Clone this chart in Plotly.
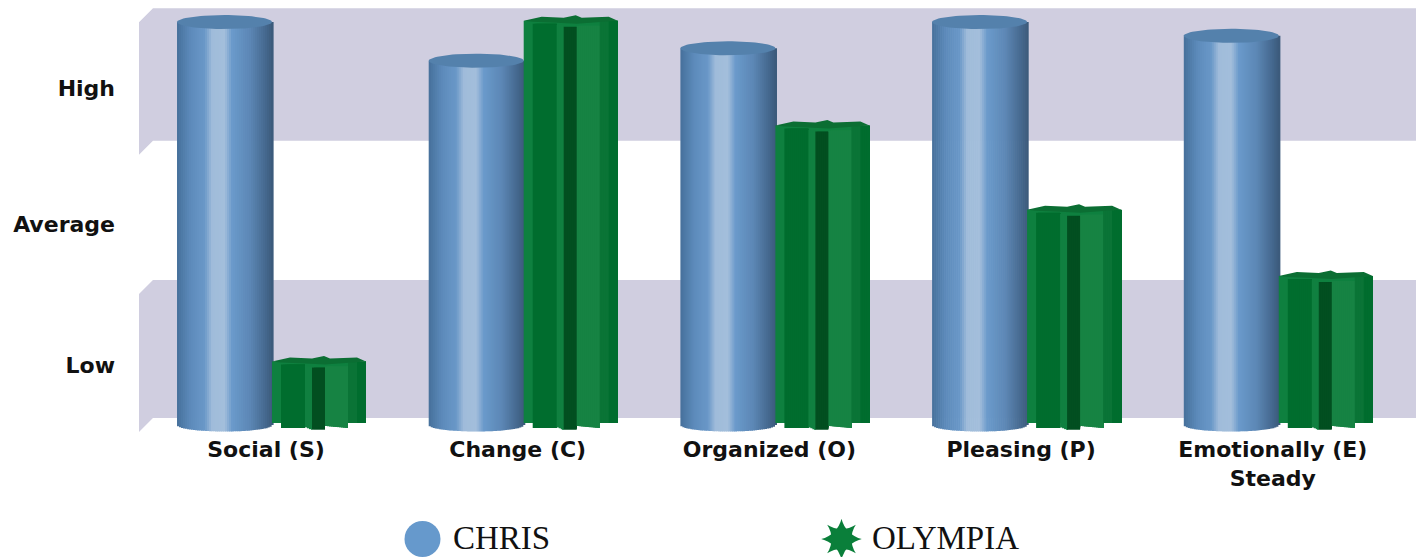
import math
import plotly.graph_objects as go

# Trait scores on the Low / Average / High scale
categories = ["Social (S)", "Change (C)", "Organized (O)", "Pleasing (P)", "Emotionally (E)<br>Steady"]
chris_scores = [2.92, 2.64, 2.73, 2.92, 2.82]
olympia_scores = [0.46, 2.93, 2.17, 1.56, 1.08]
level_labels = ["Low", "Average", "High"]
level_positions = [0.43, 1.455, 2.44]
shaded_bands = [(0.05, 1.05), (2.06, 3.02)]
key_labels = ["CHRIS", "OLYMPIA"]

# Drawing scale of the figure
FIG_W, FIG_H = 1416, 557
PLOT_LEFT, PLOT_BOTTOM = 139, 434
PX_X = 1 / 251.7
PX_Y = 1 / 138
X_POS = list(range(len(categories)))
X_RANGE = [-0.5046, 4.569]
Y_RANGE = [-0.0652, 3.0797]
BOUNDARY = 6      # gap between a label centre and the seam of its two columns
WIDTH = 95
PRISM_W = 94
LID_RY = 7
FOOT_RY = 6.5
WALL_LEFT = -0.449
WALL_SKEW_X = 14
WALL_SKEW_Y = 14


def lerp_color(stops, t):
    for (t0, c0), (t1, c1) in zip(stops, stops[1:]):
        if t <= t1:
            f = (t - t0) / (t1 - t0) if t1 > t0 else 0
            return "rgb({},{},{})".format(*[round(a + (b - a) * f) for a, b in zip(c0, c1)])
    return "rgb({},{},{})".format(*stops[-1][1])


def profile(points, x):
    for (a, da), (b, db) in zip(points, points[1:]):
        if a <= x <= b and b > a:
            return da + (db - da) * (x - a) / (b - a)
    return points[-1][1]


# Horizontal shading across a cylinder, left to right
CYLINDER_SHADE = [
    (0.00, (70, 112, 155)), (0.14, (92, 138, 186)), (0.29, (106, 152, 200)),
    (0.37, (160, 188, 218)), (0.50, (163, 190, 219)), (0.58, (106, 154, 203)),
    (0.77, (92, 135, 181)), (0.93, (69, 104, 143)), (1.00, (60, 91, 124)),
]
# Recessed faces of the eight-pointed prism: start and end in pixels from its left edge, colour
PRISM_FACES = [
    (9, 33, "#006d2e"), (33, 40, "#108040"), (40, 53, "#024f20"),
    (53, 76, "#168343"), (76, 85, "#0a7436"), (85, 94, "#006d2e"),
]
PRISM_BODY = "#0e803f"
# Foot of each face: pixels from left edge, pixels below the zero line
PRISM_FOOT = [(9, 3), (33, 2), (40, 5), (53, 1), (76, 3), (76.01, -2), (94, -2)]
# Top of each face: pixels from left edge, pixels below the score
PRISM_HEAD = [(9, 3), (33, 4), (40, 6), (53, 7), (53.01, 5), (76, 5), (76.01, 1), (94, 0)]
# Outline of the cap: pixels from left edge, pixels above the score
PRISM_CAP = [(0, 0), (18, 4), (40, 3), (52, 5.5), (58, 3), (85, 4), (94, 0),
             (76, -1), (53, -3), (33, -2), (9, -1)]
CAP_COLOR = "#0b6e33"

fig = go.Figure()

# Cylinders: narrow vertical strips give the shading and the rounded foot
STRIP = 2
for px in range(0, WIDTH, STRIP):
    t = (px + STRIP / 2) / WIDTH
    foot = FOOT_RY * math.sqrt(max(0, 1 - (2 * t - 1) ** 2)) * PX_Y
    fig.add_trace(go.Bar(
        x=X_POS, y=[v + foot for v in chris_scores], base=[-foot] * len(X_POS),
        width=(STRIP + 0.6) * PX_X, offset=(BOUNDARY - WIDTH + px) * PX_X,
        marker=dict(color=lerp_color(CYLINDER_SHADE, t), line_width=0),
        showlegend=False, hoverinfo="skip",
    ))

# Prisms: a solid body first, then the recessed faces on top of it
fig.add_trace(go.Bar(
    x=X_POS, y=[v - 2 * PX_Y for v in olympia_scores], base=[2 * PX_Y] * len(X_POS),
    width=PRISM_W * PX_X, offset=BOUNDARY * PX_X,
    marker=dict(color=PRISM_BODY, line_width=0), showlegend=False, hoverinfo="skip",
))
for start, end, color in PRISM_FACES:
    px = start
    while px < end:
        step = min(STRIP, end - px)
        mid = px + step / 2
        foot = profile(PRISM_FOOT, mid) * PX_Y
        head = profile(PRISM_HEAD, mid) * PX_Y
        fig.add_trace(go.Bar(
            x=X_POS, y=[v - head + foot for v in olympia_scores], base=[-foot] * len(X_POS),
            width=(end - px) * PX_X, offset=(BOUNDARY + px) * PX_X,
            marker=dict(color=color, line_width=0),
            showlegend=False, hoverinfo="skip",
        ))
        px += step

# Cylinder lids
for xc, v in zip(X_POS, chris_scores):
    cx = xc + (BOUNDARY - WIDTH / 2) * PX_X
    angles = [2 * math.pi * i / 72 for i in range(73)]
    fig.add_trace(go.Scatter(
        x=[cx + WIDTH / 2 * PX_X * math.cos(a) for a in angles],
        y=[v + LID_RY * PX_Y * math.sin(a) for a in angles],
        mode="lines", fill="toself", fillcolor="#5481ac", line=dict(width=0),
        showlegend=False, hoverinfo="skip",
    ))

# Prism caps
for xc, v in zip(X_POS, olympia_scores):
    fig.add_trace(go.Scatter(
        x=[xc + (BOUNDARY + dx) * PX_X for dx, _ in PRISM_CAP],
        y=[v + dy * PX_Y for _, dy in PRISM_CAP],
        mode="lines", fill="toself", fillcolor=CAP_COLOR, line=dict(width=0),
        showlegend=False, hoverinfo="skip",
    ))

# Key below the chart, on its own pixel-scaled axes
KEY_FONT = dict(family="Liberation Serif", size=33, color="#111111")
fig.add_trace(go.Scatter(
    x=[422.5], y=[0.5], xaxis="x2", yaxis="y2", mode="markers", name=key_labels[0],
    marker=dict(symbol="circle", size=36, color="#6699cc", line_width=0),
    cliponaxis=False, showlegend=False, hoverinfo="skip",
))
for symbol, size in (("circle", 20), ("star-square", 26), ("star-diamond", 29)):
    fig.add_trace(go.Scatter(
        x=[841.5], y=[0.5], xaxis="x2", yaxis="y2", mode="markers", name=key_labels[1],
        marker=dict(symbol=symbol, size=size, color="#0a7f3a", line_width=0),
        cliponaxis=False, showlegend=False, hoverinfo="skip",
    ))
fig.add_trace(go.Scatter(
    x=[453, 872], y=[0.46, 0.46], xaxis="x2", yaxis="y2", mode="text",
    text=key_labels, textposition="middle right", textfont=KEY_FONT,
    cliponaxis=False, showlegend=False, hoverinfo="skip",
))

# Shaded level bands on the back wall, with the skewed return on the left
band_shapes = []
for low, high in shaded_bands:
    x0, x1 = WALL_LEFT, X_RANGE[1]
    xs = x0 - WALL_SKEW_X * PX_X
    dy = WALL_SKEW_Y * PX_Y
    path = (f"M {xs} {low - dy} L {x0} {low} L {x1} {low} L {x1} {high} "
            f"L {x0} {high} L {xs} {high - dy} Z")
    band_shapes.append(dict(type="path", path=path, xref="x", yref="y", layer="below",
                            fillcolor="#d0cee0", line_width=0))

tick_font = dict(family="DejaVu Sans", size=22, color="#111111", weight="bold")
fig.update_layout(
    width=FIG_W, height=FIG_H,
    margin=dict(l=0, r=0, t=0, b=0),
    paper_bgcolor="white", plot_bgcolor="white",
    barmode="overlay", showlegend=False, shapes=band_shapes,
    xaxis=dict(domain=[PLOT_LEFT / FIG_W, 1], range=X_RANGE, anchor="y",
               tickvals=X_POS, ticktext=categories, showgrid=False,
               zeroline=False, showline=False, ticks="", tickfont=tick_font, tickangle=0,
               ticklabelstandoff=0, fixedrange=True),
    yaxis=dict(domain=[(FIG_H - PLOT_BOTTOM) / FIG_H, 1], range=Y_RANGE, anchor="x",
               tickvals=level_positions, ticktext=level_labels, showgrid=False,
               zeroline=False, showline=False, ticks="", tickfont=tick_font,
               ticklabelstandoff=23, fixedrange=True),
    xaxis2=dict(domain=[0, 1], range=[0, FIG_W], anchor="y2", visible=False, fixedrange=True),
    yaxis2=dict(domain=[0, 36 / FIG_H], range=[0, 1], anchor="x2", visible=False, fixedrange=True),
)
fig.write_html("out.html", config=dict(displayModeBar=False))
